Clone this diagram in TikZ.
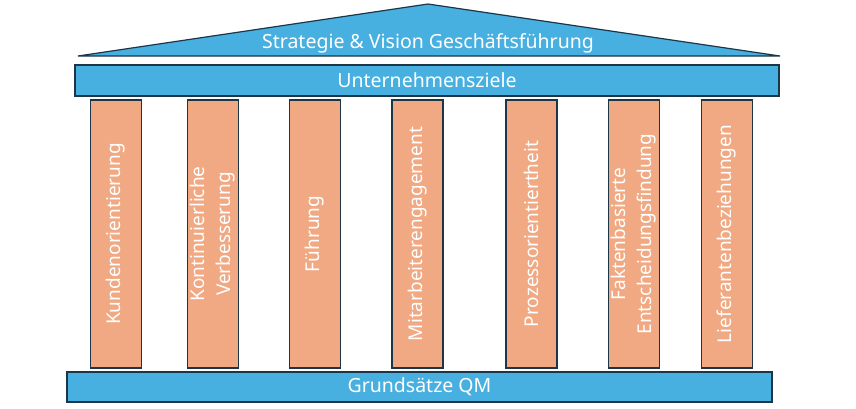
\documentclass[tikz,border=0pt]{standalone}
\usepackage{fontspec}
\setmainfont{Noto Sans}
\definecolor{qblue}{HTML}{47B0E0}
\definecolor{qorange}{HTML}{F1A983}
\definecolor{qline}{HTML}{1C3647}
\begin{document}
\begin{tikzpicture}[x=1pt,y=-1pt,
  box/.style={draw=qline, line width=1.2pt, inner sep=0pt, text=white},
  bluebox/.style={box, fill=qblue, font=\fontsize{19.5}{22}\selectfont},
  pillar/.style={box, fill=qorange, rotate=90, minimum width=268pt, minimum height=51pt, align=center, font=\fontsize{19}{26}\selectfont}]
\useasboundingbox[fill=white] (0,0) rectangle (856,408);
% roof
\coordinate (rl) at (78,56);
\coordinate (ra) at (428,4);
\coordinate (rr) at (780,56);
\draw[fill=qblue, draw=qline, line width=1.2pt, line join=miter] (rl) -- (ra) -- (rr) -- cycle;
\node[text=white, font=\fontsize{19.5}{22}\selectfont] (roof) at (428,43) {Strategie \& Vision Geschäftsführung};
% beam
\node[bluebox, minimum width=704pt, minimum height=31pt] (beam) at (427,80.5) {Unternehmensziele};
% pillars
\node[pillar] (p1) at (116,234) {Kundenorientierung};
\node[pillar] (p2) at (213,234) {Kontinuierliche\\Verbesserung};
\node[pillar] (p3) at (315,234) {Führung};
\node[pillar] (p4) at (417.5,234) {Mitarbeiterengagement};
\node[pillar] (p5) at (531.5,234) {Prozessorientiertheit};
\node[pillar] (p6) at (634,234) {Faktenbasierte\\Entscheidungsfindung};
\node[pillar] (p7) at (727,234) {Lieferantenbeziehungen};
% base
\node[bluebox, minimum width=705pt, minimum height=30pt] (base) at (419.5,387) {Grundsätze QM};
\end{tikzpicture}
\end{document}
